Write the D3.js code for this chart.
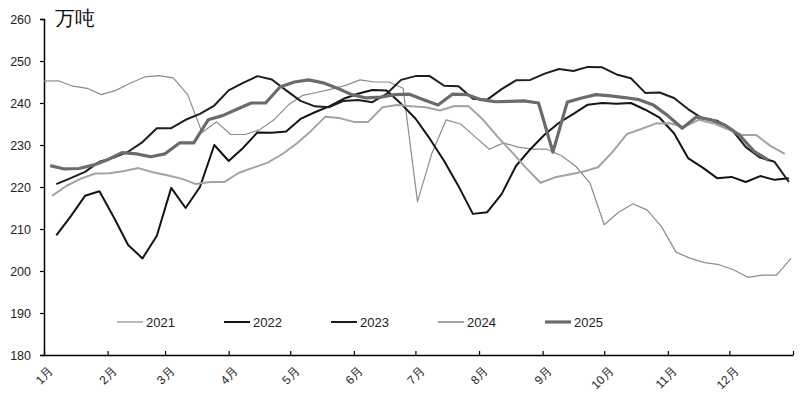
<!DOCTYPE html>
<html><head><meta charset="utf-8">
<script src="https://cdn.jsdelivr.net/npm/d3@7"></script>
<style>
body{margin:0;background:#fff;}
svg text{font-family:"Liberation Sans",Arial,sans-serif;}
</style></head>
<body><svg id="chart" width="805" height="396"></svg>
<script>
// ---- data (weekly values, 万吨) ----
const seriesNames = ["2021","2022","2023","2024","2025"];
const seriesStart = ["2021-01-01","2021-01-07","2021-01-07","2021-01-05","2021-01-04"]; // first week plotted on a common Jan–Dec axis
const v2021 = [245.2,245.3,244,243.5,242,243,244.7,246.2,246.5,246,242,233,235.5,232.5,232.5,233.6,236,239.5,241.8,242.5,243.3,244.2,245.5,245,245,243.5,216.5,228,236,235,232,229,230.5,229.5,229,229,227.5,225,221,211,214,216,214.5,210.5,204.5,203,202,201.5,200.3,198.5,199,199,203];
const v2022 = [208.5,213,217.9,219,212.8,206.2,203,208.4,219.8,215,220,230,226.2,229.3,233,232.9,233.2,236.2,237.8,239.2,241,242.2,243.1,243,239.8,236.3,231.5,226.2,220.2,213.6,214,218.3,225,229,232.5,235.3,237.4,239.6,240,239.8,240,238.4,236.5,232.8,226.8,224.6,222.1,222.4,221.2,222.6,221.7,222.1];
const v2023 = [220.7,222.1,223.6,226,227,228.4,230.7,234,234,236,237.4,239.4,243,244.8,246.4,245.6,243,240.5,239.2,239,240.5,240.7,240.2,242.2,245.5,246.4,246.4,244.1,244,241,240.8,243.3,245.4,245.5,247,248.1,247.6,248.6,248.5,246.8,245.9,242.4,242.5,241.2,238.5,236.3,235.8,233.8,229.5,227,226,221.2];
const v2024 = [217.9,220.3,222,223.2,223.3,223.8,224.5,223.5,222.8,222,220.7,221.2,221.2,223.4,224.6,225.8,227.8,230.3,233.3,236.7,236.4,235.5,235.5,239,239.5,239.2,239,238.2,239.3,239.2,236,232,228.3,224.5,221,222.3,223,223.7,224.7,228.3,232.6,233.8,235.1,235.2,234.3,236,235.2,233.8,232.4,232.4,229.8,227.9];
const v2025 = [225.1,224.3,224.4,225.2,226.5,228.2,227.9,227.2,227.9,230.5,230.5,236,237,238.5,240,240,243.8,245,245.5,244.8,243.5,242,241.2,241.4,242,242.1,240.8,239.5,242.1,242,240.8,240.3,240.4,240.5,240,228.3,240.2,241.2,242,241.7,241.3,240.8,239.5,237,234,236.7,236,234.7,232.3,228.5,226.4];
const seriesValues = [v2021,v2022,v2023,v2024,v2025];
const monthLabels = ["1月","2月","3月","4月","5月","6月","7月","8月","9月","10月","11月","12月"];
const yTicks = [180,190,200,210,220,230,240,250,260];
const unitLabel = "万吨";

// ---- styles ----
const styles = [
  {color:"#8c8c8c", width:1.2},
  {color:"#141414", width:2},
  {color:"#1e1e1e", width:2},
  {color:"#a3a3a3", width:2},
  {color:"#6b6b6b", width:3.2}
];

const svg = d3.select("#chart");
const x = d3.scaleTime().domain([new Date(2021,0,1), new Date(2022,0,1)]).range([44, 793]);
const y = d3.scaleLinear().domain([180,260]).range([355,19]);
const parse = d3.timeParse("%Y-%m-%d");

// axes
const yAxis = d3.axisLeft(y).tickValues(yTicks).tickSize(4).tickPadding(9);
const gy = svg.append("g").attr("transform","translate(44,0)").call(yAxis);
gy.select(".domain").attr("stroke","#000").attr("stroke-width",1.5);
gy.selectAll(".tick line").attr("stroke","#000").attr("stroke-width",1.2);
gy.selectAll(".tick text").attr("font-size",12.5).attr("fill","#222").attr("font-family","Liberation Sans, Arial, sans-serif");

const monthDates = d3.range(12).map(m => new Date(2021,m,1)).concat([new Date(2022,0,1)]);
const xAxis = d3.axisBottom(x).tickValues(monthDates).tickSizeInner(-4).tickSizeOuter(0).tickFormat("");
const gx = svg.append("g").attr("transform","translate(0,355)").call(xAxis);
gx.select(".domain").attr("stroke","#000").attr("stroke-width",1.5);
gx.selectAll(".tick line").attr("stroke","#000").attr("stroke-width",1.2);

svg.append("g").selectAll("text").data(monthLabels).join("text")
  .attr("transform",(d,i)=>`translate(${x(monthDates[i])+4},${366}) rotate(-45)`)
  .attr("text-anchor","end").attr("dy","0.7em")
  .attr("font-size",12).attr("fill","#222")
  .text(d=>d);

// lines
const line = d3.line().x(d=>x(d.date)).y(d=>y(d.value));
seriesValues.forEach((vals,k)=>{
  const start = parse(seriesStart[k]);
  const pts = vals.map((v,i)=>({date:d3.timeDay.offset(start,7*i), value:v}));
  svg.append("path").datum(pts)
    .attr("fill","none").attr("stroke",styles[k].color).attr("stroke-width",styles[k].width)
    .attr("stroke-linejoin","round").attr("d",line);
});

// unit label
svg.append("text").attr("x",55).attr("y",25).attr("font-size",20)
  .attr("font-family","Noto Sans CJK SC, sans-serif").attr("fill","#111").text(unitLabel);

// legend
const legendX = [117,224,331,438,545];
const lg = svg.append("g");
seriesNames.forEach((n,k)=>{
  lg.append("line").attr("x1",legendX[k]).attr("x2",legendX[k]+26).attr("y1",322).attr("y2",322)
    .attr("stroke",styles[k].color).attr("stroke-width",styles[k].width);
  lg.append("text").attr("x",legendX[k]+29).attr("y",322).attr("dy","0.36em")
    .attr("font-size",13).attr("fill","#222").text(n);
});
</script></body></html>
